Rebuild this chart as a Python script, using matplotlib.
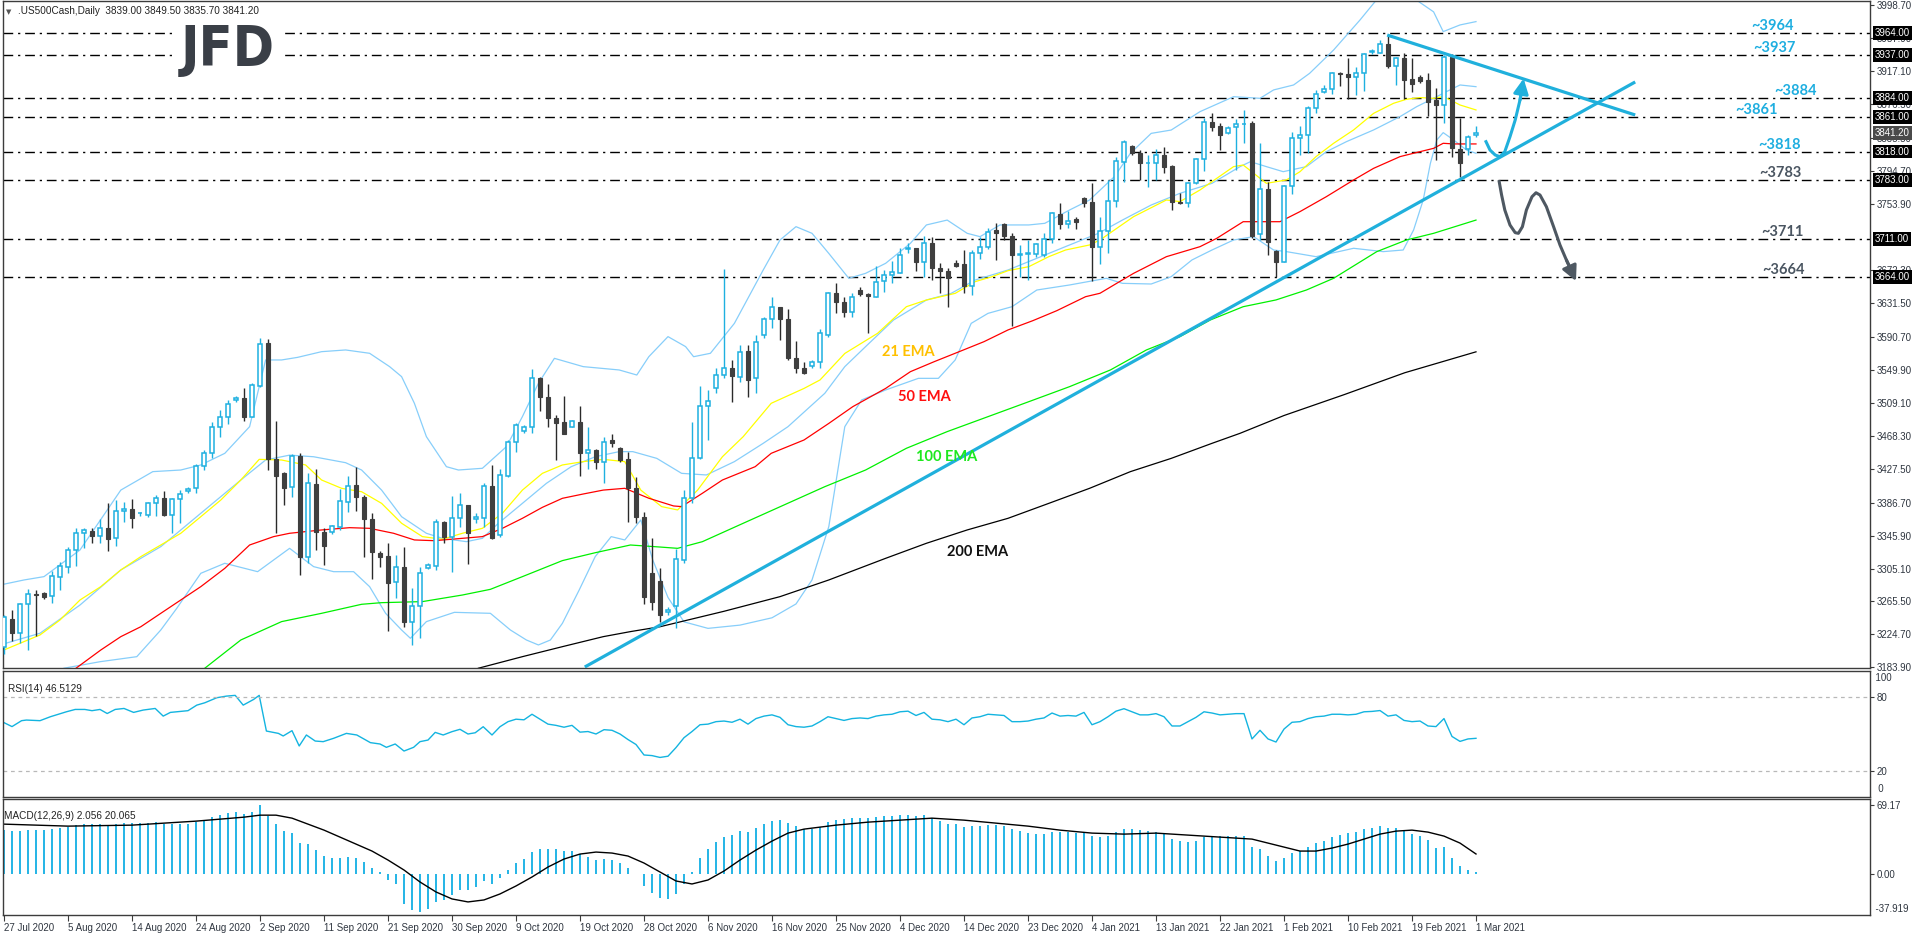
import matplotlib
matplotlib.use("Agg")
import matplotlib.pyplot as plt
import numpy as np

W, H, DPI = 1916, 936, 100

# ------------------------------------------------------------------ data
date_labels = ["27 Jul 2020", "5 Aug 2020", "14 Aug 2020", "24 Aug 2020", "2 Sep 2020",
               "11 Sep 2020", "21 Sep 2020", "30 Sep 2020", "9 Oct 2020", "19 Oct 2020",
               "28 Oct 2020", "6 Nov 2020", "16 Nov 2020", "25 Nov 2020", "4 Dec 2020",
               "14 Dec 2020", "23 Dec 2020", "4 Jan 2021", "13 Jan 2021", "22 Jan 2021",
               "1 Feb 2021", "10 Feb 2021", "19 Feb 2021", "1 Mar 2021"]

opens = [3209.5, 3244.0, 3226.0, 3261.6, 3274.0, 3276.0, 3271.8, 3294.7, 3308.0, 3328.4,
         3348.9, 3351.7, 3346.0, 3356.0, 3342.7, 3376.3, 3378.8, 3373.5, 3371.4, 3385.7,
         3392.7, 3371.4, 3390.7, 3401.3, 3404.0, 3432.0, 3447.0, 3479.0, 3492.3, 3512.8,
         3515.7, 3491.5, 3530.4, 3583.3, 3439.8, 3423.5, 3406.2, 3443.9, 3320.0, 3409.5,
         3350.0, 3350.0, 3357.0, 3387.0, 3408.3, 3394.0, 3366.0, 3325.0, 3321.0, 3288.6,
         3307.9, 3240.3, 3259.5, 3305.8, 3309.0, 3362.4, 3344.8, 3367.3, 3383.7, 3366.0,
         3367.3, 3407.0, 3346.8, 3419.8, 3461.6, 3475.0, 3479.0, 3539.4, 3516.9, 3490.2,
         3485.3, 3480.0, 3485.3, 3447.2, 3451.3, 3436.9, 3463.6, 3453.4, 3439.9, 3405.0,
         3369.4, 3300.0, 3290.0, 3252.0, 3260.0, 3316.0, 3391.9, 3441.0, 3505.4, 3527.0,
         3543.5, 3551.7, 3541.5, 3573.0, 3539.4, 3592.7, 3612.0, 3626.7, 3612.0, 3564.8,
         3551.7, 3554.0, 3559.9, 3592.7, 3643.9, 3633.7, 3621.4, 3648.0, 3642.7, 3639.8,
         3659.0, 3666.5, 3669.4, 3698.5, 3699.3, 3682.0, 3706.2, 3674.7, 3671.8, 3680.8,
         3680.0, 3653.4, 3693.0, 3701.3, 3721.8, 3728.8, 3714.4, 3691.0, 3692.0, 3692.2,
         3691.0, 3710.3, 3741.5, 3729.2, 3735.0, 3760.7, 3756.6, 3700.5, 3721.0, 3757.5,
         3805.8, 3825.0, 3817.0, 3803.8, 3803.8, 3814.0, 3800.9, 3756.6, 3755.4, 3779.2,
         3808.7, 3855.0, 3849.7, 3840.7, 3848.0, 3852.0, 3853.0, 3716.5, 3771.8, 3696.4,
         3683.0, 3775.9, 3834.5, 3838.6, 3871.4, 3891.9, 3894.8, 3915.3, 3913.6, 3909.5,
         3914.4, 3941.0, 3939.8, 3950.0, 3923.9, 3932.9, 3907.0, 3909.5, 3906.2, 3881.6,
         3875.5, 3934.9, 3821.0, 3821.0, 3839.0]
highs = [3248.5, 3255.0, 3263.0, 3281.0, 3279.0, 3277.0, 3302.6, 3314.0, 3332.5, 3355.0,
         3355.0, 3355.0, 3366.0, 3385.7, 3390.0, 3387.8, 3390.7, 3375.5, 3387.8, 3396.0,
         3401.3, 3392.7, 3402.0, 3406.0, 3433.7, 3451.0, 3486.0, 3500.5, 3512.8, 3517.7,
         3527.0, 3533.3, 3588.6, 3587.4, 3487.0, 3424.7, 3446.0, 3448.0, 3422.6, 3427.5,
         3355.0, 3359.0, 3403.4, 3419.4, 3430.8, 3396.0, 3374.3, 3327.0, 3336.6, 3322.2,
         3332.5, 3281.2, 3307.9, 3312.0, 3366.0, 3364.4, 3394.7, 3398.9, 3383.7, 3373.5,
         3410.3, 3432.9, 3427.5, 3463.6, 3484.0, 3482.0, 3550.9, 3541.5, 3532.0, 3494.3,
         3517.7, 3488.0, 3505.4, 3480.0, 3452.5, 3467.7, 3470.6, 3455.4, 3449.3, 3418.5,
         3375.0, 3342.8, 3306.0, 3258.0, 3330.0, 3402.0, 3486.0, 3530.0, 3525.0, 3551.7,
         3673.5, 3562.0, 3580.4, 3580.4, 3592.7, 3614.4, 3639.8, 3626.7, 3624.3, 3585.7,
         3560.0, 3562.0, 3599.7, 3646.0, 3656.2, 3639.8, 3644.0, 3652.0, 3644.0, 3677.6,
         3672.6, 3683.7, 3699.3, 3705.4, 3699.3, 3714.4, 3713.6, 3680.8, 3674.7, 3685.0,
         3697.2, 3697.2, 3713.6, 3723.9, 3730.0, 3730.0, 3718.5, 3703.4, 3709.5, 3706.2,
         3717.7, 3744.3, 3754.6, 3745.6, 3737.4, 3762.8, 3779.0, 3737.4, 3783.3, 3812.0,
         3832.5, 3826.3, 3820.2, 3814.0, 3821.0, 3824.3, 3801.7, 3767.7, 3781.2, 3810.7,
         3859.1, 3865.3, 3853.0, 3849.7, 3857.9, 3869.4, 3855.8, 3828.4, 3781.2, 3697.2,
         3777.2, 3841.9, 3849.7, 3874.3, 3894.0, 3900.1, 3916.5, 3916.5, 3932.9, 3922.6,
         3939.0, 3944.0, 3955.4, 3961.6, 3934.9, 3939.0, 3932.9, 3912.4, 3915.3, 3896.0,
         3937.0, 3938.2, 3859.1, 3838.6, 3849.5]
lows = [3201.0, 3217.0, 3213.6, 3205.0, 3222.0, 3268.0, 3262.8, 3279.0, 3300.5, 3308.7,
        3330.4, 3336.6, 3336.6, 3327.6, 3333.3, 3363.2, 3355.0, 3370.6, 3369.3, 3370.0,
        3370.2, 3349.7, 3361.0, 3398.9, 3398.9, 3426.7, 3441.0, 3467.7, 3483.3, 3510.7,
        3487.4, 3491.5, 3529.2, 3426.7, 3349.7, 3383.7, 3394.0, 3297.6, 3312.8, 3328.4,
        3310.0, 3347.6, 3353.0, 3374.7, 3376.7, 3320.0, 3292.3, 3307.0, 3229.2, 3269.0,
        3234.0, 3211.6, 3219.8, 3305.0, 3303.8, 3336.6, 3301.7, 3357.0, 3311.0, 3361.0,
        3357.0, 3341.5, 3344.8, 3417.7, 3449.3, 3472.6, 3471.8, 3499.7, 3479.0, 3439.0,
        3470.6, 3479.0, 3419.8, 3428.0, 3428.0, 3411.2, 3455.4, 3437.0, 3363.2, 3361.0,
        3262.0, 3255.0, 3240.0, 3248.0, 3233.0, 3312.0, 3385.7, 3439.9, 3463.6, 3521.8,
        3539.4, 3510.7, 3535.3, 3516.9, 3521.8, 3588.6, 3600.9, 3586.6, 3562.0, 3545.6,
        3545.0, 3551.7, 3551.7, 3590.7, 3619.3, 3615.2, 3614.4, 3641.0, 3594.8, 3639.0,
        3646.0, 3656.2, 3668.5, 3693.0, 3671.8, 3663.6, 3660.3, 3644.0, 3627.5, 3676.0,
        3644.8, 3641.9, 3685.7, 3698.5, 3684.9, 3709.5, 3603.8, 3664.4, 3660.3, 3689.0,
        3688.1, 3706.2, 3722.6, 3723.9, 3722.6, 3750.5, 3659.5, 3680.0, 3693.0, 3750.5,
        3781.0, 3814.0, 3783.3, 3775.0, 3783.3, 3792.3, 3746.4, 3753.8, 3749.7, 3778.3,
        3794.8, 3843.5, 3820.2, 3839.9, 3795.6, 3828.4, 3711.6, 3709.5, 3691.1, 3663.6,
        3683.0, 3766.0, 3814.0, 3816.9, 3865.2, 3890.7, 3889.0, 3898.9, 3882.5, 3887.8,
        3893.0, 3938.2, 3939.0, 3921.4, 3900.1, 3882.5, 3891.9, 3902.1, 3862.0, 3807.9,
        3853.0, 3812.0, 3786.6, 3814.0, 3835.7]
closes = [3245.6, 3226.0, 3261.6, 3274.0, 3273.0, 3271.0, 3296.4, 3308.7, 3328.4, 3348.9,
          3353.0, 3346.0, 3356.0, 3342.0, 3376.3, 3378.8, 3367.3, 3373.6, 3385.7, 3392.7,
          3371.4, 3390.7, 3396.8, 3403.4, 3432.0, 3447.0, 3479.0, 3491.5, 3507.4, 3515.7,
          3491.5, 3531.2, 3581.6, 3439.8, 3419.8, 3405.0, 3444.0, 3319.4, 3410.3, 3350.0,
          3333.0, 3357.9, 3388.6, 3407.0, 3394.0, 3366.0, 3326.3, 3320.0, 3287.4, 3307.0,
          3240.3, 3259.5, 3299.7, 3309.9, 3362.4, 3344.0, 3367.3, 3383.7, 3349.7, 3368.6,
          3407.0, 3342.7, 3420.6, 3461.6, 3482.0, 3479.0, 3539.4, 3516.0, 3490.2, 3485.0,
          3470.6, 3487.0, 3447.2, 3451.3, 3437.0, 3461.6, 3459.5, 3439.0, 3404.2, 3369.4,
          3270.0, 3265.0, 3248.0, 3255.0, 3316.9, 3391.9, 3441.0, 3505.4, 3512.0, 3543.5,
          3551.7, 3542.3, 3572.2, 3537.4, 3584.5, 3612.0, 3626.7, 3612.0, 3564.0, 3551.7,
          3546.4, 3559.9, 3594.8, 3643.9, 3633.7, 3621.4, 3639.0, 3642.7, 3640.7, 3658.3,
          3666.5, 3670.6, 3691.1, 3699.3, 3682.0, 3706.2, 3674.7, 3671.8, 3662.4, 3678.0,
          3653.4, 3693.0, 3701.3, 3719.8, 3718.5, 3714.4, 3691.0, 3691.8, 3693.0, 3704.2,
          3710.3, 3742.3, 3729.2, 3733.3, 3732.0, 3755.4, 3700.5, 3721.0, 3757.5, 3806.7,
          3829.6, 3817.0, 3803.8, 3803.9, 3814.0, 3799.7, 3756.7, 3755.4, 3779.2, 3808.7,
          3855.0, 3848.9, 3838.6, 3846.8, 3851.7, 3852.5, 3714.4, 3771.8, 3707.5, 3683.0,
          3775.9, 3834.5, 3838.6, 3871.4, 3888.6, 3894.8, 3914.4, 3913.7, 3909.5, 3914.4,
          3937.8, 3941.2, 3950.0, 3923.9, 3932.9, 3906.2, 3900.9, 3905.4, 3879.6, 3875.5,
          3934.0, 3822.2, 3803.8, 3836.6, 3841.2]

ema21_bar = [-0.5, 4.5, 7, 9.5, 12.1, 14.6, 17.1, 19.6, 22.1, 24.6, 27.1, 29.6, 31.9, 34.7, 37.7,
             39.7, 42.2, 44.7, 47.2, 49.7, 52.3, 54.8, 57.3, 59.8, 62.3, 64.8, 67.3, 69.8, 72.4,
             74.9, 77.6, 79.6, 82.2, 84.2, 86.7, 89.8, 92.4, 95.9, 100, 102, 105.1, 109.2, 112.8,
             115.3, 118.9, 121.4, 123.5, 125.5, 128.1, 130.6, 132.7, 135.7, 137, 141.2, 145.3,
             147, 149.5, 153.7, 154.9, 157.8, 160.3, 162, 164, 166.2, 168.7, 171.2, 173.7, 175.3,
             177, 178.7, 179.9, 180.8, 182, 184]
ema21 = [3203.4, 3223.9, 3242.3, 3266.9, 3283.3, 3303.8, 3320.2, 3334.5, 3348.9, 3369.3, 3389.8,
         3414.4, 3439.8, 3439.0, 3432.9, 3414.4, 3404.2, 3400.0, 3385.7, 3361.2, 3344.8, 3341.5,
         3348.9, 3355.0, 3373.5, 3402.0, 3422.6, 3432.9, 3437.0, 3439.8, 3437.0, 3402.0, 3381.7,
         3377.6, 3402.0, 3443.0, 3467.7, 3508.7, 3527.0, 3537.4, 3570.0, 3594.8, 3627.5, 3635.7,
         3643.9, 3658.3, 3664.4, 3671.8, 3676.7, 3689.0, 3697.2, 3703.4, 3709.5, 3738.2, 3758.7,
         3756.7, 3771.0, 3799.7, 3801.7, 3779.2, 3783.3, 3793.5, 3812.0, 3828.4, 3844.8, 3865.2,
         3877.6, 3882.5, 3884.6, 3883.7, 3885.7, 3881.6, 3875.5, 3869.4]

ema50_bar = [9, 12.1, 14.6, 17.1, 19.6, 24.6, 27.6, 30.7, 33.7, 35.7, 39.7, 43.2, 45.7, 48.7, 51.3,
             53.8, 57.3, 59.8, 62.3, 64.8, 67.3, 69.8, 72.4, 74.9, 77.6, 80.6, 83.7, 84.7, 87.3,
             89.8, 93.9, 95.9, 100, 103.1, 106.1, 110.2, 113.3, 116.3, 119.4, 122.5, 125.5, 128.6,
             131.6, 135.2, 137, 139.1, 141.2, 145.3, 149.5, 151.6, 154.9, 159.5, 162, 165.3, 168.7,
             171.2, 174.5, 177, 178.7, 179.9, 181.2, 184]
ema50 = [3183.0, 3205.4, 3221.8, 3234.0, 3250.5, 3283.3, 3305.8, 3334.5, 3344.8, 3348.9, 3353.0,
         3355.8, 3355.0, 3348.9, 3340.7, 3339.8, 3342.7, 3344.8, 3355.0, 3367.3, 3380.8, 3391.9,
         3397.2, 3402.0, 3404.2, 3392.0, 3382.5, 3381.7, 3398.1, 3414.4, 3430.8, 3447.2, 3463.6,
         3484.0, 3504.6, 3527.0, 3547.6, 3560.0, 3572.2, 3584.5, 3598.9, 3610.3, 3622.6, 3639.8,
         3644.0, 3656.3, 3668.5, 3689.0, 3701.3, 3711.6, 3732.0, 3732.0, 3744.4, 3762.8, 3783.3,
         3797.6, 3812.0, 3818.1, 3822.2, 3828.4, 3827.6, 3827.6]

ema100_bar = [25.1, 29.6, 34.7, 39.7, 44.7, 47.2, 52.3, 57.3, 60.8, 64.8, 69.8, 73.9, 78.3, 82,
              84.2, 87.3, 92.4, 97.5, 102.6, 107.7, 112.8, 117.9, 123, 128.1, 133.2, 138.3, 142.8,
              147, 150.8, 154.9, 159, 162.8, 166.2, 171.6, 175.3, 178.7, 184]
ema100 = [3183.0, 3217.7, 3240.3, 3250.5, 3261.6, 3263.6, 3264.9, 3273.0, 3280.0, 3295.6, 3315.3,
          3325.0, 3334.5, 3332.0, 3330.4, 3338.6, 3361.2, 3383.7, 3406.2, 3426.7, 3453.4, 3473.9,
          3492.3, 3510.7, 3529.2, 3549.7, 3574.3, 3590.7, 3611.2, 3627.5, 3635.8, 3648.0, 3662.4,
          3695.2, 3709.5, 3717.7, 3734.0]

ema200_bar = [59.3, 64.8, 69.8, 74.9, 78.3, 82, 90, 97, 103.1, 110.2, 115.3, 120.4, 125.5, 130.6,
              135.7, 140.8, 145.9, 151, 154.5, 160, 167.5, 175.1, 184]
ema200 = [3183.0, 3197.2, 3209.5, 3221.8, 3228.0, 3234.0, 3253.0, 3271.0, 3291.5, 3318.1, 3336.6,
          3353.0, 3367.3, 3385.7, 3404.2, 3424.7, 3441.0, 3459.5, 3471.8, 3493.7, 3519.3, 3546.3,
          3572.0]

bb_up_bar = [-0.5, 2.5, 5, 9.5, 14.6, 18.6, 22.1, 24.6, 27.6, 30.7, 32.7, 34.7, 36.7, 39.7, 42.7,
             45.7, 48.2, 49.7, 51.3, 52.8, 55.3, 56.8, 59.8, 62.8, 64.8, 66.8, 68.8, 72.4, 76.9,
             79.1, 80.6, 83, 85.2, 86.2, 88.3, 91.3, 94.9, 97, 99, 101, 103.1, 105.6, 107.7, 110.2,
             113.3, 115.3, 117.9, 120.4, 122, 124.5, 128.1, 130.1, 133.2, 135.7, 138.8, 140.8,
             143.4, 145.9, 149.5, 153.7, 157, 158.7, 161.2, 163.2, 166.2, 169.5, 172, 175, 178.7,
             179.9, 182, 184]
bb_up = [3285.3, 3291.5, 3295.6, 3328.4, 3402.0, 3424.7, 3426.7, 3432.9, 3447.2, 3480.0, 3562.0,
         3562.0, 3565.2, 3572.2, 3574.3, 3570.2, 3553.8, 3541.5, 3508.7, 3467.7, 3430.8, 3426.7,
         3428.8, 3455.4, 3492.3, 3533.3, 3564.0, 3553.8, 3549.7, 3543.5, 3566.0, 3590.7, 3578.4,
         3566.0, 3570.2, 3607.0, 3672.6, 3709.5, 3725.9, 3717.7, 3693.0, 3662.4, 3668.5, 3680.8,
         3705.4, 3728.0, 3734.0, 3717.7, 3713.6, 3728.0, 3728.0, 3730.0, 3746.4, 3758.7, 3787.4,
         3816.1, 3840.6, 3844.7, 3867.3, 3885.7, 3883.7, 3894.0, 3900.1, 3914.4, 3943.1, 3980.0,
         4010.0, 4015.0, 3990.0, 3965.7, 3973.9, 3978.0]

bb_mid_bar = [-0.5, 4.5, 9.5, 14.6, 19.6, 24.6, 29.6, 32.7, 35.7, 38.7, 42.7, 44.7, 47.2, 49.7,
              52.8, 54.8, 57.8, 59.8, 61.8, 64.8, 67.8, 70.9, 73.9, 76.9, 78.6, 81.6, 84.7, 87.8,
              91.3, 94.9, 98, 102.6, 105.1, 107.7, 111.2, 115.3, 118.4, 121.4, 125.5, 129.6, 133.2,
              136.8, 139.8, 143.4, 147, 151, 154.5, 155.8, 157.8, 159.9, 162.8, 165.3, 167.8,
              171.2, 174.5, 176.6, 178.7, 180.3, 182, 184]
bb_mid = [3211.6, 3226.0, 3260.7, 3303.8, 3332.5, 3373.5, 3414.4, 3439.0, 3445.0, 3443.0, 3435.7,
          3426.7, 3402.0, 3369.3, 3348.9, 3342.7, 3338.6, 3342.7, 3361.2, 3385.7, 3410.3, 3430.8,
          3443.0, 3449.3, 3449.3, 3441.0, 3422.6, 3420.6, 3437.0, 3459.5, 3480.0, 3521.0, 3553.8,
          3578.4, 3611.2, 3635.7, 3643.9, 3660.3, 3672.6, 3689.0, 3703.4, 3717.7, 3734.0, 3752.5,
          3766.9, 3779.2, 3799.7, 3805.8, 3799.7, 3793.5, 3799.7, 3818.1, 3830.4, 3844.8, 3861.2,
          3873.5, 3883.7, 3891.9, 3900.1, 3898.0]

bb_low_bar = [7.5, 12, 16.6, 19.6, 21.6, 24.6, 27.6, 31.7, 35.7, 38.7, 41.2, 43.7, 45.7, 47.7, 49.7,
              50.8, 52.8, 56.3, 60.8, 63.3, 65.3, 66.8, 68.3, 69.8, 71.9, 73.9, 75.9, 77.6, 79.6,
              81.1, 83, 85, 88, 92, 96, 99, 101, 103.1, 105.1, 107.2, 110.2, 114.3, 116.8, 118.9,
              120.9, 123, 126, 129.1, 133.2, 137.8, 139.8, 143.4, 145.9, 148.5, 151, 153.7, 156.2,
              158.7, 160.3, 164, 168.7, 172.4, 174.9, 176.2, 177.4, 178.3, 179.1, 179.9, 181.2,
              182.8, 184]
bb_low = [3183.0, 3191.0, 3197.2, 3230.0, 3256.7, 3299.7, 3312.0, 3301.7, 3330.4, 3307.9, 3301.7,
          3301.7, 3283.3, 3250.5, 3230.0, 3219.8, 3240.3, 3251.7, 3250.5, 3230.0, 3217.7, 3211.6,
          3217.7, 3238.2, 3279.2, 3320.2, 3344.8, 3340.7, 3365.3, 3316.0, 3270.0, 3240.0, 3232.0,
          3236.0, 3245.0, 3262.0, 3291.5, 3357.1, 3480.0, 3512.8, 3525.1, 3539.4, 3539.4, 3562.0,
          3607.0, 3619.3, 3627.5, 3648.0, 3654.2, 3662.4, 3656.2, 3655.4, 3664.4, 3685.0, 3697.2,
          3709.5, 3713.6, 3697.2, 3695.2, 3689.0, 3699.3, 3695.2, 3697.2, 3721.8, 3758.7, 3803.8,
          3832.5, 3841.5, 3832.5, 3820.2, 3816.1]

rsi_bar = [0, 1, 2.2, 2.8, 4.5, 5.8, 7.8, 8.9, 10.1, 11, 12, 12.9, 13.9, 15, 16.2, 17.4, 18.9,
           19.9, 20.8, 22, 23, 24.1, 25.1, 26.6, 27.8, 28.9, 29.9, 31.2, 31.9, 32.8, 34.3, 34.9,
           36, 36.9, 37.8, 38.9, 39.9, 41.2, 42.8, 44.1, 45.8, 47, 47.8, 48.9, 50, 51.2, 52, 53,
           53.9, 54.9, 56, 57, 58, 58.9, 59.9, 61] + list(range(62, 185))
rsi = [59.2, 56.0, 60.8, 61.3, 60.8, 64.0, 68.0, 69.9, 69.9, 68.9, 69.9, 66.6, 69.9, 70.7, 67.5,
       69.4, 70.7, 64.5, 67.5, 68.3, 68.9, 73.4, 75.3, 79.4, 80.7, 81.3, 73.4, 78.0, 81.3, 52.4,
       50.5, 48.4, 52.7, 40.3, 49.2, 44.3, 43.8, 46.5, 50.5, 49.2, 43.0, 41.9, 39.2, 41.9, 36.2,
       39.2, 43.8, 45.1, 51.3, 49.2, 51.9, 53.8, 50.0, 51.0, 55.9, 49.2,
       55.9, 60.0, 62.0, 61.5, 66.0, 62.0, 58.0, 57.0, 55.5, 57.0,
       51.5, 52.0, 50.0, 53.5, 53.0, 50.0, 45.5, 41.5, 33.0, 32.5,
       31.0, 32.0, 39.0, 47.0, 52.0, 57.5, 58.0, 60.0, 60.5, 59.5,
       62.0, 58.0, 62.5, 64.5, 65.5, 63.5, 57.5, 56.0, 55.5, 56.5,
       60.0, 64.0, 62.5, 61.0, 62.5, 63.0, 62.5, 64.5, 65.5, 66.0,
       68.0, 68.5, 65.0, 67.5, 62.0, 61.5, 60.0, 62.0, 57.5, 63.0,
       64.0, 66.0, 65.5, 65.0, 60.0, 60.0, 60.5, 62.0, 63.0, 67.0,
       64.5, 65.0, 64.5, 67.5, 57.5, 60.0, 64.0, 68.5, 70.5, 68.0,
       65.5, 65.5, 66.5, 64.0, 56.5, 56.5, 60.0, 63.5, 68.0, 67.0,
       65.5, 66.0, 66.5, 66.5, 46.0, 53.0, 46.0, 43.5, 54.0, 59.5,
       60.0, 62.5, 64.0, 64.5, 66.0, 66.0, 65.5, 66.0, 68.0, 68.3,
       69.0, 64.5, 65.5, 61.0, 60.0, 60.5, 56.5, 56.0, 62.5, 48.0,
       44.0, 46.0, 46.5]

macd_hist = [44, 43, 43, 44, 44, 44, 45, 46, 47, 49,
             50, 50, 50, 49, 50, 51, 51, 51, 51, 52,
             50, 50, 50, 50, 52, 54, 57, 59, 61, 62,
             60, 62, 69.17, 58, 50, 43, 41, 31, 30, 24,
             18, 16, 16, 17, 16, 12, 6, 2, -6, -10,
             -30, -36, -37.9, -35, -28, -26, -21, -16, -16, -13,
             -7, -10, -4, 4, 11, 15, 22, 25, 25, 25,
             23, 23, 20, 17, 14, 15, 14, 11, 6, 0,
             -12, -19, -24, -25, -20, -10, 2, 16, 25, 32,
             37, 39, 43, 42, 46, 50, 53, 54, 51, 48,
             45, 45, 47, 52, 54, 55, 56, 56, 56, 57,
             58, 58, 59, 59, 58, 59, 56, 53, 50, 50,
             47, 48, 48, 49, 49, 48, 45, 43, 41, 40,
             40, 42, 42, 42, 41, 42, 38, 37, 38, 42,
             45, 45, 44, 43, 42, 40, 35, 33, 32, 33,
             37, 38, 38, 38, 38, 38, 27, 25, 18, 13,
             16, 21, 23, 27, 31, 33, 37, 39, 41, 42,
             45, 46, 48, 46, 46, 43, 40, 38, 34, 26,
             27, 16, 8, 4, 2.056]
macd_sig_bar = [0, 8, 16, 24, 30, 32, 34, 36, 38, 40, 42, 44, 46, 48, 50, 52, 54, 56, 58, 60, 62,
                64, 66, 68, 70, 72, 74, 76, 78, 80, 82, 84, 86, 88, 90, 92, 94, 96, 98, 100, 104,
                108, 112, 116, 120, 124, 128, 132, 136, 140, 144, 148, 152, 156, 158, 160, 162,
                164, 166, 168, 170, 172, 174, 176, 178, 180, 182, 184]
macd_sig = [50, 48, 49, 53, 57, 59, 59, 56, 50, 44, 37, 30, 23, 14, 4, -8, -18, -25, -28, -26,
            -20, -12, -3, 7, 15, 20, 22, 21, 18, 11, 2, -7, -10, -6, 3, 14, 24, 33, 41, 45, 49,
            52, 54, 56, 54, 51, 48, 44, 41, 40, 41, 39, 37, 35, 31, 27, 23, 23, 26, 30, 35, 40,
            43, 44, 42, 38, 31, 20.065]

levels = [3964, 3937, 3884, 3861, 3818, 3783, 3711, 3664]
level_notes = ["~3964", "~3937", "~3884", "~3861", "~3818", "~3783", "~3711", "~3664"]
price_ticks = [3998.70, 3957.90, 3917.10, 3876.30, 3835.50, 3794.70, 3753.90, 3672.30,
               3631.50, 3590.70, 3549.90, 3509.10, 3468.30, 3427.50, 3386.70, 3345.90, 3305.10,
               3265.50, 3224.70, 3183.90]
last_price = 3841.20

# trend-line anchors (bar index, price)
support_line = [(72.6, 3184.5), (203.9, 3903.8)]
resist_line = [(172.9, 3961.5), (203.9, 3863.2)]
up_arrow = [(185.25, 3830.4), (185.75, 3820.1), (186.4, 3814.0), (187.0, 3811.9), (187.6, 3818.1),
            (188.25, 3836.5), (188.9, 3857.0), (189.5, 3881.6), (189.8, 3898.0), (189.95, 3908.0)]
down_arrow = [(186.9, 3781.2), (187.2, 3764.8), (187.6, 3746.4), (188.25, 3727.9), (188.9, 3718.5),
              (189.3, 3717.7), (189.8, 3725.8), (190.3, 3746.4), (191.0, 3762.7), (191.5, 3767.6),
              (192.0, 3764.8), (192.8, 3750.4), (193.7, 3725.8), (194.5, 3703.3), (195.3, 3684.9),
              (196.0, 3670.5), (196.5, 3659.0)]

# ------------------------------------------------------------------ figure
fig = plt.figure(figsize=(W / DPI, H / DPI), dpi=DPI)
fig.patch.set_facecolor("white")


def rect(x0, y0, x1, y1):
    return [x0 / W, 1 - y1 / H, (x1 - x0) / W, (y1 - y0) / H]


ax = fig.add_axes(rect(3, 1, 1870, 668))
ax_rsi = fig.add_axes(rect(3, 671, 1870, 797), sharex=ax)
ax_macd = fig.add_axes(rect(3, 799, 1870, 915), sharex=ax)

PX = 1.2295  # price per pixel
XMIN, XMAX = -0.125, 233.25
ax.set_xlim(XMIN, XMAX)
ax.set_ylim(3964 - 635 * PX, 3964 + 32 * PX)

SPINE = "#3c3c3c"
LBL = "#2f3640"
AXFONT = ["Liberation Sans", "DejaVu Sans"]
for a in (ax, ax_rsi, ax_macd):
    for s in a.spines.values():
        s.set_color(SPINE)
        s.set_linewidth(1.0)
    a.set_facecolor("white")
    a.tick_params(axis="x", which="both", bottom=False, labelbottom=False)
    a.yaxis.tick_right()
    a.tick_params(axis="y", direction="out", length=3, width=0.8, color=SPINE,
                  labelsize=7, labelcolor=LBL, pad=2)

BULL = "#1eb0e0"
BEAR = "#3f3f3f"
CYAN_TL = "#20b0dc"

# ---- horizontal levels
for lv in levels:
    ax.axhline(lv, color="black", lw=1.0, ls=(0, (7, 3.5, 1.6, 3.5)), zorder=1)

# ---- indicator lines
for bx, by in ((bb_up_bar, bb_up), (bb_mid_bar, bb_mid), (bb_low_bar, bb_low)):
    ax.plot(bx, by, color="#87cefa", lw=0.9, zorder=2)
ax.plot(ema21_bar, ema21, color="#ffff00", lw=0.9, zorder=2)
ax.plot(ema50_bar, ema50, color="#ff0000", lw=0.9, zorder=2)
ax.plot(ema100_bar, ema100, color="#00f000", lw=0.9, zorder=2)
ax.plot(ema200_bar, ema200, color="black", lw=0.9, zorder=2)

# ---- candles
o, hi, lo, c = (np.array(v) for v in (opens, highs, lows, closes))
x = np.arange(len(c))
up = c >= o
bot = np.minimum(o, c)
hgt = np.maximum(np.abs(c - o), 0.4)
ax.vlines(x[up], lo[up], hi[up], color=BULL, lw=1.0, zorder=3)
ax.vlines(x[~up], lo[~up], hi[~up], color="#2a2a2a", lw=1.0, zorder=3)
ax.bar(x[up], hgt[up], bottom=bot[up], width=0.6, facecolor="white", edgecolor=BULL,
       lw=1.1, zorder=4)
ax.bar(x[~up], hgt[~up], bottom=bot[~up], width=0.6, facecolor=BEAR, edgecolor=BEAR,
       lw=0.8, zorder=4)

# ---- trend lines and arrows
for ln in (support_line, resist_line):
    xs, ys = zip(*ln)
    ax.plot(xs, ys, color=CYAN_TL, lw=2.3, zorder=6, solid_capstyle="butt")

ux, uy = zip(*up_arrow)
ax.plot(ux[:-1], uy[:-1], color=CYAN_TL, lw=2.2, zorder=6)
ax.annotate("", xy=up_arrow[-1], xytext=up_arrow[-3],
            arrowprops=dict(arrowstyle="-|>,head_length=0.9,head_width=0.45", color=CYAN_TL,
                            lw=2.2, shrinkA=0, shrinkB=0), zorder=6)
dx_, dy_ = zip(*down_arrow)
ax.plot(dx_[:-1], dy_[:-1], color="#4e5862", lw=2.2, zorder=6)
ax.annotate("", xy=down_arrow[-1], xytext=down_arrow[-3],
            arrowprops=dict(arrowstyle="-|>,head_length=0.9,head_width=0.45", color="#4e5862",
                            lw=2.2, shrinkA=0, shrinkB=0), zorder=6)

# ---- right price scale
ax.set_yticks(price_ticks)
ax.set_yticklabels([f"{v:.2f}" for v in price_ticks], family=AXFONT)
for lv in levels:
    ax.annotate(f"{lv:.2f}", xy=(1, lv), xycoords=("axes fraction", "data"),
                xytext=(3.6, 0), textcoords="offset points", va="center", ha="left",
                fontsize=7, color="white", family=AXFONT, zorder=10, annotation_clip=False,
                bbox=dict(boxstyle="square,pad=0.18", fc="black", ec="none"))
ax.annotate(f"{last_price:.2f}", xy=(1, last_price), xycoords=("axes fraction", "data"),
            xytext=(3.6, 0), textcoords="offset points", va="center", ha="left",
            fontsize=7, color="white", family=AXFONT, zorder=10, annotation_clip=False,
            bbox=dict(boxstyle="square,pad=0.18", fc="#4a4a4a", ec="none"))

# ---- level notes on the chart
note_colors = ["#1eaee0"] * 5 + ["#4a5561"] * 3
note_x = [221.1, 221.25, 223.9, 219.0, 221.9, 222.0, 222.25, 222.4]
for lv, t, col, nx in zip(levels, level_notes, note_colors, note_x):
    ax.text(nx, lv + 8.5, t, color=col, fontsize=10.5, fontweight="bold", family="Lato",
            ha="center", va="center", zorder=8)


# ---- EMA labels
def ftext(px, py, s, col, size=10.5):
    fig.text(px / W, 1 - py / H, s, color=col, fontsize=size, fontweight="bold",
             family="Lato", ha="center", va="center", zorder=9)


ftext(908, 352, "21 EMA", "#ffc000")
ftext(924, 397, "50 EMA", "#ff1010")
ftext(947, 457, "100 EMA", "#1ee81e")
ftext(978, 552, "200 EMA", "#111111")

# ---- header and logo
fig.text(228 / W, 1 - 50 / H, "JFD", fontsize=40, fontweight="bold", family="DejaVu Sans",
         fontstretch="condensed", color="#3a3f47", ha="center", va="center", zorder=20,
         bbox=dict(boxstyle="square,pad=0.12", fc="white", ec="none"))
fig.text(9 / W, 1 - 12 / H, "\u25BC", fontsize=5, color="#555555", ha="center", va="center",
         zorder=30)
fig.text(18 / W, 1 - 11 / H, ".US500Cash,Daily  3839.00 3849.50 3835.70 3841.20",
         fontsize=7.2, color="#222222", family=AXFONT, ha="left", va="center", zorder=30)

# ---- RSI panel
ax_rsi.set_ylim(-1.05, 101.05)
ax_rsi.plot(rsi_bar, rsi, color="#13b4e0", lw=1.0)
for lv in (80, 20):
    ax_rsi.axhline(lv, color="#b8b8b8", lw=0.9, ls=(0, (3, 3)))
ax_rsi.set_yticks([80, 20])
ax_rsi.set_yticklabels(["80", "20"], family=AXFONT)
ax_rsi.text(1.0, 95.7, "  100", transform=ax_rsi.get_yaxis_transform(), fontsize=7,
            color=LBL, va="center", ha="left", family=AXFONT)
ax_rsi.text(1.0, 5.2, "   0", transform=ax_rsi.get_yaxis_transform(), fontsize=7,
            color=LBL, va="center", ha="left", family=AXFONT)
ax_rsi.text(4.5 / 1867, 0.86, "RSI(14) 46.5129", transform=ax_rsi.transAxes, fontsize=7.2,
            color="#222222", family=AXFONT, ha="left", va="center")

# ---- MACD panel
ax_macd.set_ylim(-41.1, 75.2)
ax_macd.bar(np.arange(len(macd_hist)), macd_hist, width=0.28, color="#29b6e6", lw=0)
ax_macd.plot(macd_sig_bar, macd_sig, color="black", lw=1.0)
ax_macd.set_yticks([69.17, 0.0])
ax_macd.set_yticklabels(["69.17", "0.00"], family=AXFONT)
ax_macd.text(1.0, -34.8, "  -37.919", transform=ax_macd.get_yaxis_transform(), fontsize=7,
             color=LBL, va="center", ha="left", family=AXFONT)
ax_macd.text(1.5 / 1867, 0.85, "MACD(12,26,9) 2.056 20.065", transform=ax_macd.transAxes,
             fontsize=7.2, color="#222222", family=AXFONT, ha="left", va="center")

# ---- date axis
date_pos = list(range(0, 8 * len(date_labels), 8))
ax_macd.set_xticks(date_pos)
ax_macd.set_xticklabels(date_labels, family=AXFONT, ha="left")
ax_macd.tick_params(axis="x", bottom=True, labelbottom=True, direction="out", length=4,
                    width=0.8, color=SPINE, labelsize=7, labelcolor=LBL, pad=2)
ax_macd.set_xlim(XMIN, XMAX)

fig.savefig("out.png", dpi=DPI, facecolor="white")
